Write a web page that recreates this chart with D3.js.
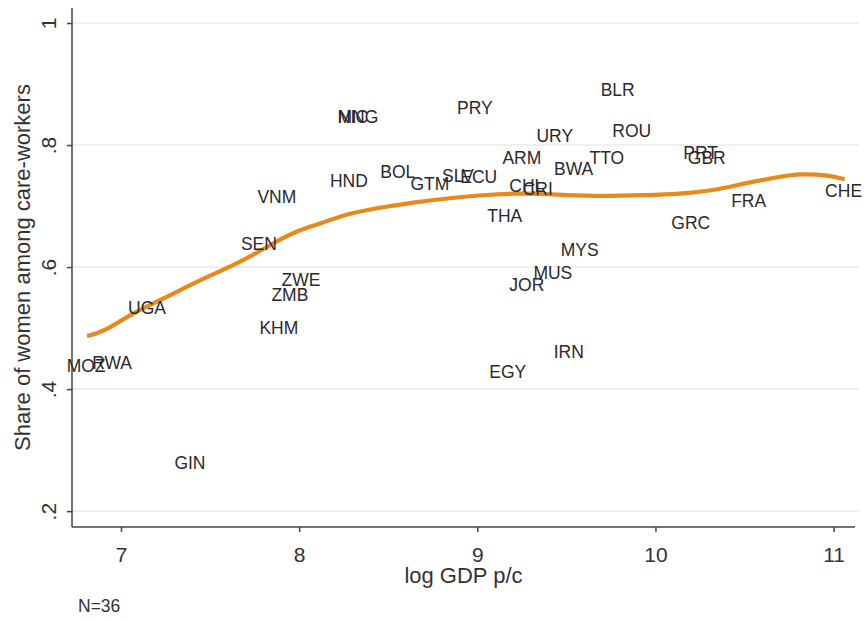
<!DOCTYPE html>
<html>
<head>
<meta charset="utf-8">
<script src="https://cdn.jsdelivr.net/npm/d3@7"></script>
<style>
  html, body { margin: 0; padding: 0; background: #fff; }
  svg { display: block; font-family: "Liberation Sans", Arial, Helvetica, sans-serif; }
</style>
</head>
<body>
<svg id="chart" width="868" height="622"></svg>
<script>
// Country labels (ISO3), log GDP per capita, share of women among care-workers
const countries = ["MOZ","RWA","UGA","GIN","KHM","ZMB","ZWE","SEN","VNM","HND","NIC","MNG","BOL","GTM","SLV","ECU","PRY","ARM","CHL","CRI","URY","BWA","THA","MYS","MUS","JOR","IRN","EGY","BLR","ROU","TTO","PRT","GBR","GRC","FRA","CHE"];
const logGDP    = [6.804,6.950,7.146,7.387,7.886,7.948,8.010,7.774,7.875,8.279,8.302,8.330,8.554,8.734,8.891,9.008,8.986,9.250,9.278,9.339,9.435,9.541,9.154,9.575,9.424,9.278,9.513,9.171,9.788,9.867,9.727,10.254,10.288,10.198,10.523,11.056];
const shareWomen = [0.439,0.444,0.533,0.280,0.500,0.554,0.579,0.639,0.715,0.741,0.846,0.846,0.757,0.736,0.749,0.748,0.862,0.779,0.733,0.728,0.816,0.761,0.684,0.628,0.590,0.571,0.461,0.428,0.890,0.823,0.780,0.787,0.779,0.672,0.708,0.725];

// Lowess smoother
const lowessX = [6.809,6.899,7.067,7.258,7.443,7.668,7.881,8.004,8.116,8.285,8.470,8.661,8.846,9.031,9.222,9.351,9.502,9.687,9.951,10.136,10.321,10.512,10.697,10.809,10.961,11.062];
const lowessY = [0.487,0.493,0.525,0.551,0.579,0.607,0.644,0.661,0.671,0.689,0.698,0.707,0.713,0.718,0.721,0.720,0.718,0.716,0.718,0.720,0.725,0.738,0.748,0.753,0.751,0.744];

const xTicks = [7, 8, 9, 10, 11];
const yTicks = [0.2, 0.4, 0.6, 0.8, 1];
const yTickLabels = [".2", ".4", ".6", ".8", "1"];

const svg = d3.select("#chart");
const pLeft = 72, pRight = 855, pTop = 8, pBottom = 527;

const x = d3.scaleLinear().domain([6.725, 11.12]).range([pLeft, pRight]);
const y = d3.scaleLinear().domain([0.174, 1.0246]).range([pBottom, pTop]);

svg.append("rect").attr("width", 868).attr("height", 622).attr("fill", "#ffffff");

// grid lines
svg.append("g").selectAll("line").data(yTicks).join("line")
  .attr("x1", pLeft).attr("x2", pRight + 4)
  .attr("y1", d => y(d)).attr("y2", d => y(d))
  .attr("stroke", "#ebebeb").attr("stroke-width", 1.6);

// y axis
const yAxis = d3.axisLeft(y).tickValues(yTicks).tickSize(5)
  .tickFormat((d, i) => yTickLabels[i]);
const gy = svg.append("g").attr("transform", `translate(${pLeft},0)`).call(yAxis);
gy.select(".domain").attr("d", `M0,${pTop}V${pBottom}`).attr("stroke", "#444").attr("stroke-width", 1.5);
gy.selectAll(".tick line").attr("stroke", "#444").attr("stroke-width", 1.5);
gy.selectAll(".tick text")
  .attr("x", 0).attr("y", 0).attr("dy", 0)
  .attr("transform", "translate(-16,0) rotate(-90)")
  .attr("text-anchor", "middle")
  .attr("font-size", 21).attr("fill", "#333")
  .attr("font-family", "'Liberation Sans', Arial, sans-serif");

// x axis
const xAxis = d3.axisBottom(x).tickValues(xTicks).tickSize(5).tickFormat(d3.format("d"));
const gx = svg.append("g").attr("transform", `translate(0,${pBottom})`).call(xAxis);
gx.select(".domain").attr("d", `M${pLeft},0H${pRight}`).attr("stroke", "#444").attr("stroke-width", 1.5);
gx.selectAll(".tick line").attr("stroke", "#444").attr("stroke-width", 1.5);
gx.selectAll(".tick text")
  .attr("y", 35).attr("dy", 0)
  .attr("font-size", 21).attr("fill", "#333")
  .attr("font-family", "'Liberation Sans', Arial, sans-serif");

// lowess line
const lowess = lowessX.map((d, i) => [d, lowessY[i]]);
svg.append("path").datum(lowess)
  .attr("d", d3.line().x(d => x(d[0])).y(d => y(d[1])).curve(d3.curveBasis))
  .attr("fill", "none").attr("stroke", "#e8891c").attr("stroke-width", 4.2)
  .attr("stroke-linejoin", "round").attr("stroke-linecap", "butt");

// marker labels (centred on points)
svg.append("g").selectAll("text").data(countries).join("text")
  .attr("x", (d, i) => x(logGDP[i]))
  .attr("y", (d, i) => y(shareWomen[i]))
  .attr("dy", "0.36em")
  .attr("text-anchor", "middle")
  .attr("font-size", 17.5).attr("fill", "#2a2a2a")
  .text(d => d);

// axis titles
svg.append("text")
  .attr("transform", `translate(30,${(pTop + pBottom) / 2}) rotate(-90)`)
  .attr("text-anchor", "middle")
  .attr("font-size", 22).attr("fill", "#333")
  .text("Share of women among care-workers");

svg.append("text")
  .attr("x", (pLeft + pRight) / 2).attr("y", 583)
  .attr("text-anchor", "middle")
  .attr("font-size", 22).attr("fill", "#333")
  .text("log GDP p/c");

svg.append("text")
  .attr("x", 78).attr("y", 612)
  .attr("font-size", 17.5).attr("fill", "#333")
  .text("N=36");
</script>
</body>
</html>
